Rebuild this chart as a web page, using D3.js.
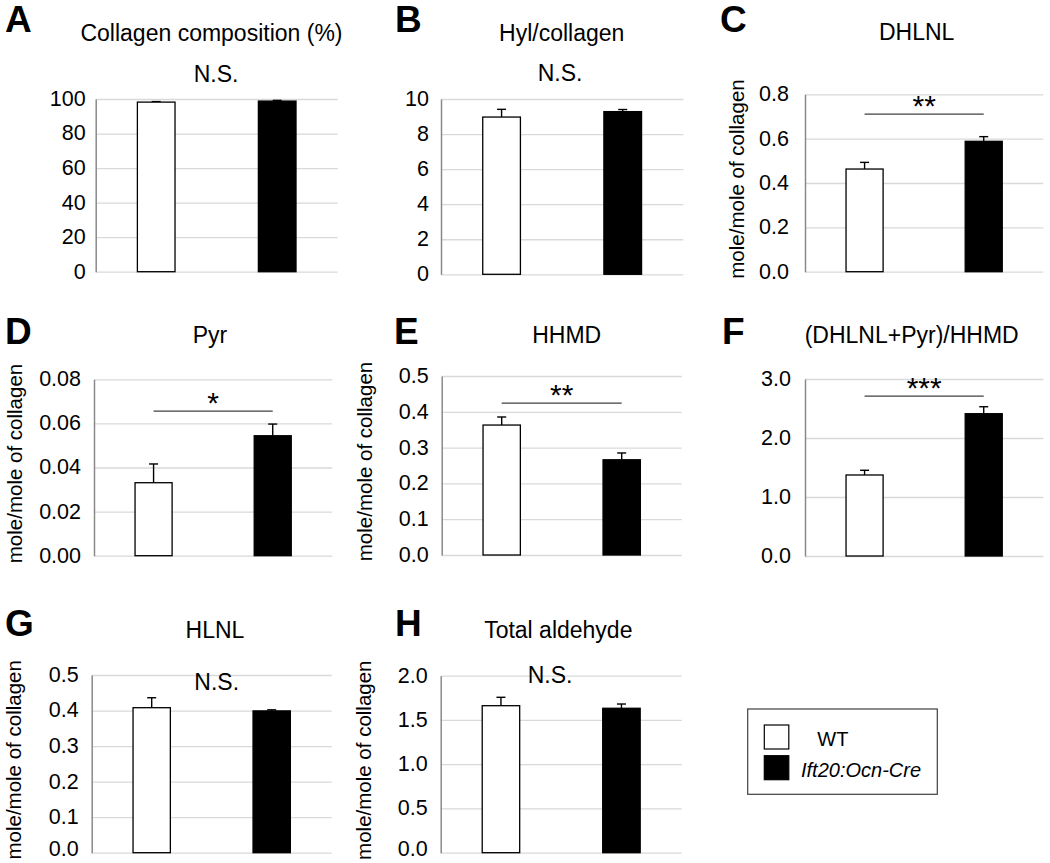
<!DOCTYPE html>
<html><head><meta charset="utf-8">
<script src="https://cdn.jsdelivr.net/npm/d3@7"></script>
<style>
body{margin:0;background:#fff}
svg{display:block}
text{font-family:"Liberation Sans",Arial,Helvetica,sans-serif;fill:#000}
</style>
</head><body>
<svg id="chart" width="1050" height="863"></svg>
<script>
// ---- data ----
const panelLetters = ["A","B","C","D","E","F","G","H"];
const panelTitles = ["Collagen composition (%)","Hyl/collagen","DHLNL","Pyr","HHMD","(DHLNL+Pyr)/HHMD","HLNL","Total aldehyde"];
const groups = ["WT","Ift20:Ocn-Cre"];
const wtMean = [98.2, 8.97, 0.463, 0.0331, 0.363, 1.373, 0.408, 1.661];
const wtSem  = [0.3, 0.44, 0.030, 0.0085, 0.0225, 0.080, 0.028, 0.095];
const koMean = [98.8, 9.28, 0.588, 0.0544, 0.266, 2.412, 0.399, 1.632];
const koSem  = [0.4, 0.12, 0.021, 0.0053, 0.019, 0.118, 0.003, 0.048];
const yTicks = [
  [0,20,40,60,80,100],
  [0,2,4,6,8,10],
  [0,0.2,0.4,0.6,0.8],
  [0,0.02,0.04,0.06,0.08],
  [0,0.1,0.2,0.3,0.4,0.5],
  [0,1,2,3],
  [0,0.1,0.2,0.3,0.4,0.5],
  [0,0.5,1,1.5,2]
];
const tickFormats = ["d","d",".1f",".2f",".1f",".1f",".1f",".1f"];
const sigLabels = ["N.S.","N.S.","**","*","**","***","N.S.","N.S."];
const sigLineValue = [null,null,0.711,0.0656,0.424,2.71,null,null];
const yLabels = ["","","mole/mole of collagen","mole/mole of collagen","mole/mole of collagen","","mole/mole of collagen","mole/mole of collagen"];

// ---- layout (pixel positions only) ----
const layout = [
  {l:95.7, r:337.7, t:99,    b:271.7, tx:211.5, ty:41,    lx:5,   ly:32,  tp:10, nsx:216,   nsy:81.7, ylx:0},
  {l:441,  r:683.3, t:99,    b:274.3, tx:561.7, ty:40.7,  lx:395, ly:32,  tp:12, nsx:560,   nsy:81,   ylx:0},
  {l:805,  r:1043.3,t:94.3,  b:271.7, tx:916.7, ty:40,    lx:720, ly:32,  tp:16, ylx:-68.3},
  {l:94,   r:332.3, t:379.3, b:555.7, tx:210,   ty:342.7, lx:5,   ly:344, tp:13, ylx:-79.5},
  {l:441.7,r:681.7, t:376,   b:555,   tx:566.7, ty:342.7, lx:394, ly:344, tp:13, ylx:-76.7},
  {l:805,  r:1043.3,t:379,   b:556,   tx:911.7, ty:343.3, lx:722, ly:344, tp:14, ylx:0},
  {l:91.7, r:331.7, t:675,   b:852.7, tx:215,   ty:638.3, lx:5,   ly:636, tp:13, nsx:216.7, nsy:690,  ylx:-77.4, edge:true},
  {l:440.7,r:681.7, t:675.7, b:852.7, tx:558.3, ty:638.3, lx:395, ly:636, tp:13, nsx:550,   nsy:683.3,ylx:-76.7, edge:true}
];

const svg = d3.select("#chart");

panelLetters.forEach((letter, i) => {
  const L = layout[i];
  const g = svg.append("g");
  const ticks = yTicks[i];
  const y = d3.scaleLinear().domain([0, d3.max(ticks)]).range([L.b, L.t]);
  const x = d3.scaleBand().domain(groups).range([L.l, L.r]).paddingInner(0.689).paddingOuter(0.3445);

  // gridlines
  const grid = g.append("g").attr("transform", `translate(${L.l},0)`)
    .call(d3.axisLeft(y).tickValues(ticks).tickSize(-(L.r - L.l)).tickFormat(""));
  grid.select(".domain").remove();
  grid.selectAll(".tick line").attr("stroke", "#d9d9d9").attr("stroke-width", 1.3);

  // axis
  const ax = g.append("g").attr("transform", `translate(${L.l},0)`)
    .call(d3.axisLeft(y).tickValues(ticks).tickFormat(d3.format(tickFormats[i])).tickSize(0).tickPadding(L.tp));
  ax.select(".domain").attr("stroke", "#8a8a8a").attr("stroke-width", 1.5);
  ax.selectAll(".tick text").attr("font-size", 21.5)
    .attr("dy", d => (L.edge && d === 0) ? "0.15em" : "0.3em")
    .attr("font-family", '"Liberation Sans",Arial,sans-serif').attr("fill", "#000");

  const bars = [
    {grp: groups[0], mean: wtMean[i], sem: wtSem[i], fill: "#fff"},
    {grp: groups[1], mean: koMean[i], sem: koSem[i], fill: "#000"}
  ];
  // error bars (upper only)
  bars.forEach(d => {
    const cx = x(d.grp) + x.bandwidth() / 2;
    g.append("line").attr("x1", cx).attr("x2", cx).attr("y1", y(d.mean)).attr("y2", y(d.mean + d.sem))
      .attr("stroke", "#000").attr("stroke-width", 1.4);
    g.append("line").attr("x1", cx - 4.5).attr("x2", cx + 4.5).attr("y1", y(d.mean + d.sem)).attr("y2", y(d.mean + d.sem))
      .attr("stroke", "#000").attr("stroke-width", 1.4);
  });
  g.selectAll("rect.bar").data(bars).enter().append("rect")
    .attr("x", d => x(d.grp)).attr("width", x.bandwidth())
    .attr("y", d => y(d.mean)).attr("height", d => y(0) - y(d.mean))
    .attr("fill", d => d.fill).attr("stroke", "#000").attr("stroke-width", 1.3);

  // panel letter
  g.append("text").attr("x", L.lx).attr("y", L.ly).attr("font-size", 37).attr("font-weight", "bold").text(letter);
  // title
  g.append("text").attr("x", L.tx).attr("y", L.ty).attr("text-anchor", "middle").attr("font-size", 23).text(panelTitles[i]);

  // significance
  if (sigLineValue[i] !== null) {
    const ly = y(sigLineValue[i]);
    const c0 = x(groups[0]) + x.bandwidth() / 2, c1 = x(groups[1]) + x.bandwidth() / 2;
    g.append("line").attr("x1", c0).attr("x2", c1).attr("y1", ly).attr("y2", ly)
      .attr("stroke", "#404040").attr("stroke-width", 1.3);
    g.append("text").attr("x", (c0 + c1) / 2).attr("y", ly + 2).attr("text-anchor", "middle")
      .attr("font-size", 30).text(sigLabels[i]);
  } else {
    g.append("text").attr("x", L.nsx).attr("y", L.nsy).attr("text-anchor", "middle")
      .attr("font-size", 23).text(sigLabels[i]);
  }

  // y label
  if (yLabels[i]) {
    const cx = L.l + L.ylx, cy = (L.t + L.b) / 2 - 4;
    g.append("text").attr("transform", `translate(${cx},${cy}) rotate(-90)`)
      .attr("text-anchor", "middle").attr("dy", "0.35em").attr("font-size", 20.5).text(yLabels[i]);
  }
});

// legend
const lg = svg.append("g");
lg.append("rect").attr("x", 747.7).attr("y", 709).attr("width", 189.6).attr("height", 85.3)
  .attr("fill", "#fff").attr("stroke", "#404040").attr("stroke-width", 1.2);
const legendFill = ["#fff", "#000"];
groups.forEach((name, k) => {
  lg.append("rect").attr("x", 764.3).attr("y", 725 + k * 30.7).attr("width", 24.5).attr("height", 24)
    .attr("fill", legendFill[k]).attr("stroke", "#000").attr("stroke-width", 1.2);
  const t = lg.append("text").attr("y", 745.7 + k * 31).attr("font-size", 20).text(name);
  if (k === 0) t.attr("x", 817.3); else t.attr("x", 801).attr("font-style", "italic");
});
</script>
</body></html>
